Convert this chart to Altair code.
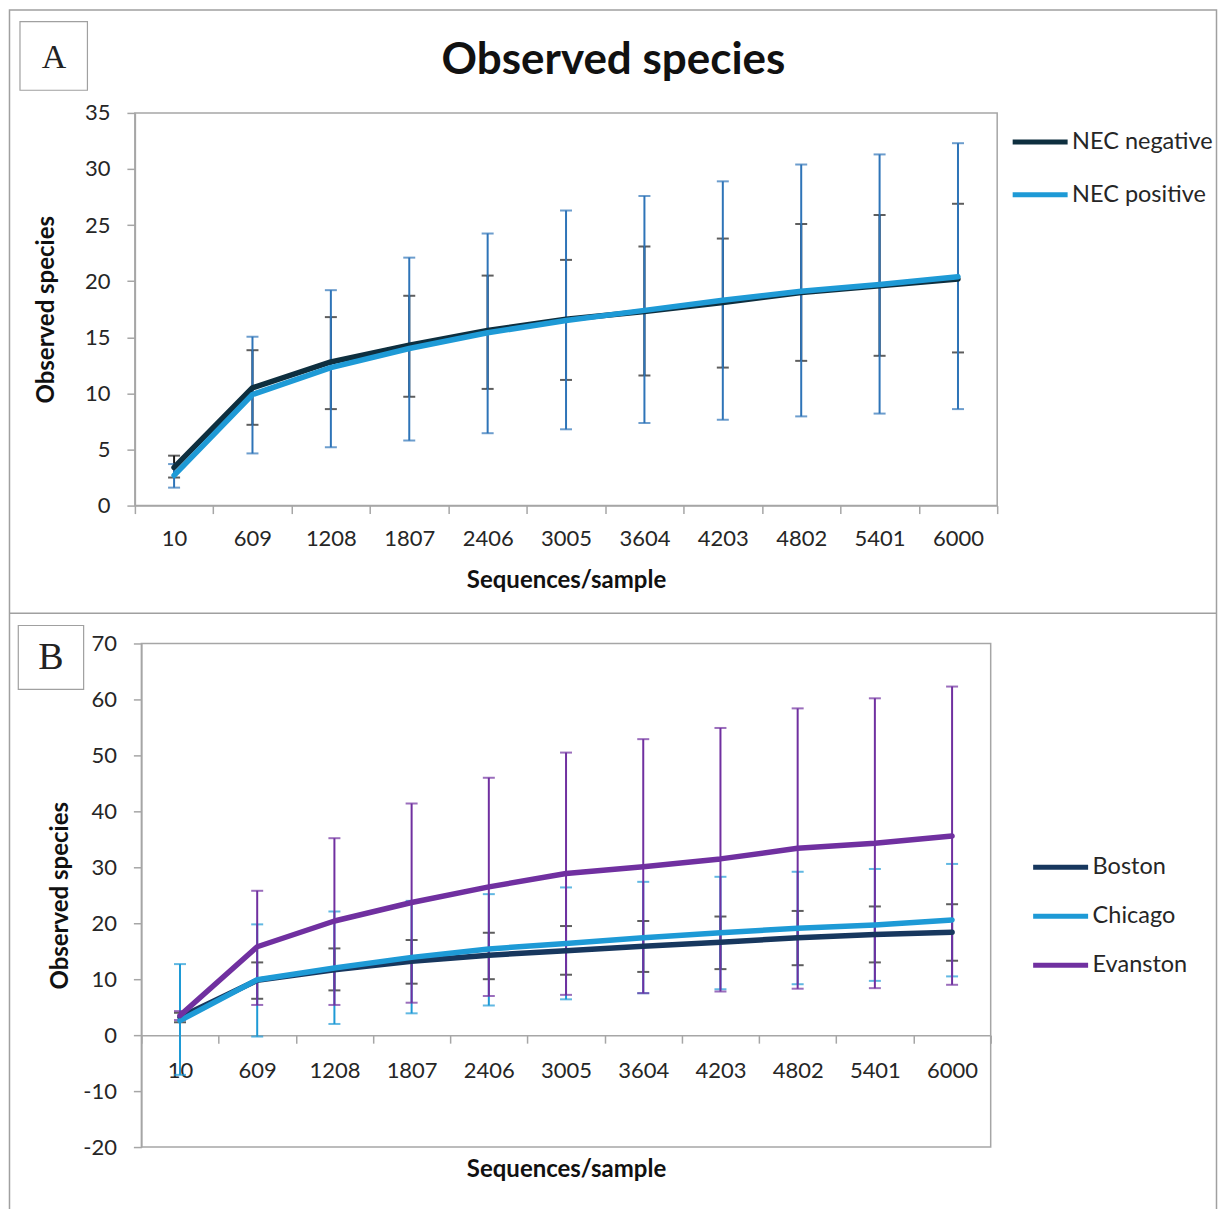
import altair as alt
import pandas as pd

# ---------------- data ----------------
seq_labels = ["10", "609", "1208", "1807", "2406", "3005", "3604", "4203", "4802", "5401", "6000"]

# Panel A
nec_neg_mean = [3.4, 10.5, 12.8, 14.3, 15.6, 16.6, 17.3, 18.1, 19.0, 19.6, 20.2]
nec_neg_lo = [2.5, 7.2, 8.6, 9.7, 10.4, 11.2, 11.6, 12.3, 12.9, 13.35, 13.65]
nec_neg_hi = [4.45, 13.85, 16.8, 18.7, 20.5, 21.9, 23.1, 23.8, 25.1, 25.9, 26.9]
nec_pos_mean = [2.7, 9.9, 12.3, 14.0, 15.4, 16.5, 17.4, 18.3, 19.1, 19.7, 20.4]
nec_pos_lo = [1.6, 4.65, 5.2, 5.8, 6.45, 6.8, 7.35, 7.65, 7.95, 8.2, 8.6]
nec_pos_hi = [3.7, 15.05, 19.2, 22.1, 24.25, 26.3, 27.6, 28.9, 30.4, 31.3, 32.3]

# Panel B
boston_mean = [3.2, 9.8, 11.7, 13.2, 14.3, 15.1, 15.9, 16.6, 17.4, 18.0, 18.4]
boston_lo = [2.3, 6.5, 8.0, 9.2, 10.0, 10.8, 11.3, 11.8, 12.5, 13.0, 13.3]
boston_hi = [4.0, 13.0, 15.5, 17.0, 18.3, 19.5, 20.4, 21.2, 22.2, 23.0, 23.4]
chicago_mean = [2.6, 9.9, 12.0, 13.9, 15.4, 16.4, 17.4, 18.3, 19.1, 19.7, 20.6]
chicago_lo = [-7.1, -0.25, 2.0, 3.9, 5.3, 6.4, 7.5, 8.2, 9.1, 9.7, 10.5]
chicago_hi = [12.7, 19.8, 22.1, 24.0, 25.2, 26.4, 27.4, 28.3, 29.2, 29.7, 30.6]
evanston_mean = [3.5, 15.8, 20.4, 23.7, 26.5, 28.9, 30.1, 31.5, 33.4, 34.3, 35.6]
evanston_lo = [2.7, 5.4, 5.4, 5.8, 7.0, 7.2, 7.5, 7.8, 8.3, 8.4, 9.0]
evanston_hi = [4.3, 25.8, 35.2, 41.4, 46.0, 50.5, 52.9, 54.9, 58.4, 60.2, 62.3]

groups_A = ["NEC negative", "NEC positive"]
colors_A = ["#0E2F3F", "#1E9AD6"]
bar_colors_A = ["#1A1A1A", "#2E74B8"]
groups_B = ["Boston", "Chicago", "Evanston"]
colors_B = ["#17375E", "#1E9AD6", "#7030A0"]
bar_colors_B = ["#1A1A1A", "#1E9AD6", "#7030A0"]


def long_df(series):
    rows = []
    for name, (m, lo, hi) in series.items():
        for s, a, b, c in zip(seq_labels, m, lo, hi):
            rows.append({"seq": s, "group": name, "mean": a, "lo": b, "hi": c})
    return pd.DataFrame(rows)


df_A = long_df({
    "NEC negative": (nec_neg_mean, nec_neg_lo, nec_neg_hi),
    "NEC positive": (nec_pos_mean, nec_pos_lo, nec_pos_hi),
})
df_B = long_df({
    "Boston": (boston_mean, boston_lo, boston_hi),
    "Chicago": (chicago_mean, chicago_lo, chicago_hi),
    "Evanston": (evanston_mean, evanston_lo, evanston_hi),
})

FONT = "Lato"
GRAY = "#A6A6A6"
TXT = "#262626"


def panel(df, groups, colors, bar_colors, ydom, yvals,
          x_offset, x_label_pad, x_title_pad, y_title_pad, legend_x, legend_y, row_pad):
    xenc = alt.X("seq:N", sort=seq_labels,
                 scale=alt.Scale(type="band", paddingInner=0, paddingOuter=0),
                 axis=alt.Axis(title="Sequences/sample", labelAngle=0, tickBand="extent",
                               tickSize=8, offset=x_offset, labelPadding=x_label_pad,
                               titlePadding=x_title_pad))
    yaxis = alt.Axis(title="Observed species", values=yvals, tickSize=8, labelPadding=17,
                     titlePadding=y_title_pad, grid=False, labelExpr="'' + datum.value")
    yscale = alt.Scale(domain=ydom, nice=False, zero=False)

    def yenc(field):
        return alt.Y(field + ":Q", scale=yscale, axis=yaxis)

    base = alt.Chart(df)
    layers = []
    for g, bc in zip(groups, bar_colors):
        sub = base.transform_filter(alt.datum.group == g)
        layers.append(sub.mark_rule(color=bc, strokeWidth=2).encode(
            x=xenc, y=yenc("lo"), y2=alt.Y2("hi:Q")))
        layers.append(sub.transform_fold(["lo", "hi"], as_=["end", "val"]).mark_tick(
            color=bc, thickness=2, size=12).encode(x=xenc, y=yenc("val")))
    cscale = alt.Scale(domain=groups, range=colors)
    legend = alt.Legend(title=None, orient="none", legendX=legend_x, legendY=legend_y,
                        symbolType="stroke", symbolSize=3025, symbolStrokeWidth=5,
                        labelFontSize=23.5, labelFont=FONT, labelColor=TXT, labelOffset=2,
                        rowPadding=row_pad)
    for g in groups:
        sub = base.transform_filter(alt.datum.group == g)
        layers.append(sub.mark_line(strokeWidth=5.5, strokeCap="round", strokeJoin="round").encode(
            x=xenc, y=yenc("mean"),
            color=alt.Color("group:N", scale=cscale, legend=legend)))
    return layers


# ---- decorations (frame, divider, panel letters, main title) drawn relative to panel A ----
one = pd.DataFrame({"d": [0]})
deco = alt.Chart(one)
deco_layers = [
    deco.mark_rect(fillOpacity=0, stroke="#A0A0A0", strokeWidth=1.5).encode(
        x=alt.value(-125.5), x2=alt.value(1082.5), y=alt.value(-103), y2=alt.value(1105)),
    deco.mark_rule(color="#A0A0A0", strokeWidth=1.5).encode(
        x=alt.value(-125.5), x2=alt.value(1082.5), y=alt.value(500.7)),
    deco.mark_rect(fillOpacity=0, stroke="#A0A0A0", strokeWidth=1.2).encode(
        x=alt.value(-115), x2=alt.value(-47.5), y=alt.value(-91.3), y2=alt.value(-22.7)),
    deco.mark_text(text="A", font="Liberation Serif", fontSize=34, color="#222222",
                   align="center", baseline="middle").encode(
        x=alt.value(-81), y=alt.value(-55)),
    deco.mark_rect(fillOpacity=0, stroke="#A0A0A0", strokeWidth=1.2).encode(
        x=alt.value(-116.7), x2=alt.value(-51.3), y=alt.value(513), y2=alt.value(577)),
    deco.mark_text(text="B", font="Liberation Serif", fontSize=38, color="#222222",
                   align="center", baseline="middle").encode(
        x=alt.value(-84), y=alt.value(546)),
    deco.mark_text(text="Observed species", font=FONT, fontSize=44, fontWeight="bold",
                   color="#111111", align="center", baseline="middle").encode(
        x=alt.value(479), y=alt.value(-52)),
]

layers_A = panel(df_A, groups_A, colors_A, bar_colors_A, [0, 35],
                 [0, 5, 10, 15, 20, 25, 30, 35], 0, 15, 19, 26, 876, -1, 11)
layers_B = panel(df_B, groups_B, colors_B, bar_colors_B, [-20, 70],
                 [-20, -10, 0, 10, 20, 30, 40, 50, 60, 70], -112, 17, 76, 10, 890, 194, 7)

chart_A = alt.layer(*deco_layers, *layers_A).properties(width=863, height=393)
chart_B = alt.layer(*layers_B).properties(width=850, height=504)

chart = alt.vconcat(chart_A, chart_B, spacing=138, bounds="flush", center=True).resolve_scale(
    x="independent", y="independent", color="independent"
).properties(
    padding={"left": 8, "top": 7.5, "right": 0, "bottom": 0}
).configure_view(
    stroke=GRAY, strokeWidth=1.5
).configure_axis(
    labelFont=FONT, labelFontSize=22, labelColor=TXT,
    titleFont=FONT, titleFontSize=24, titleFontWeight="bold", titleColor="#111111",
    domainColor=GRAY, domainWidth=1.5, tickColor=GRAY, tickWidth=1.5, grid=False
)

chart.save("out.html", embed_options={"renderer": "svg", "actions": False})
